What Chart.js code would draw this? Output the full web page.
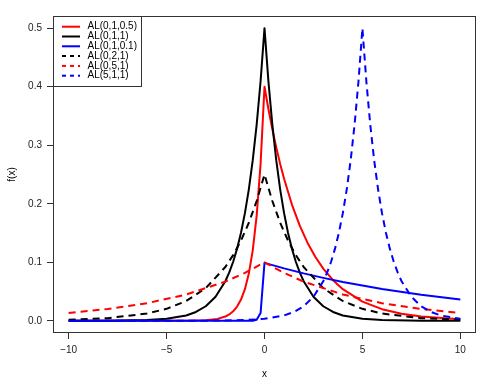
<!DOCTYPE html>
<html>
<head>
<meta charset="utf-8">
<script src="https://cdn.jsdelivr.net/npm/chart.js@4/dist/chart.umd.min.js"></script>
<style>
html,body{margin:0;padding:0;background:#fff;}
#wrap{width:499px;height:386px;}
</style>
</head>
<body>
<div id="wrap"><canvas id="c" width="499" height="386"></canvas></div>
<script>
// ---- data ----
const seriesLabels = ["AL(0,1,0.5)", "AL(0,1,1)", "AL(0,1,0.1)", "AL(0,2,1)", "AL(0,5,1)", "AL(5,1,1)"];

const x_AL_0_1_05 = [-10, -4, -3, -2.4, -2, -1.8, -1.6, -1.4, -1.2, -1, -0.8, -0.6, -0.4, -0.2, 0, 0.2, 0.4, 0.6, 0.8, 1, 1.4, 1.8, 2.2, 2.6, 3, 3.5, 4, 5, 6, 7, 8, 10];
const y_AL_0_1_05 = [0, 0.00013, 0.00099, 0.00329, 0.00733, 0.01093, 0.01630, 0.02432, 0.03629, 0.05413, 0.08076, 0.12048, 0.17973, 0.26813, 0.4, 0.36193, 0.32749, 0.29633, 0.26813, 0.24261, 0.19863, 0.16263, 0.13315, 0.10901, 0.08925, 0.06951, 0.05413, 0.03283, 0.01991, 0.01208, 0.00733, 0.00270];

const x_AL_0_1_1 = [-10, -8, -6, -5, -4, -3.5, -3, -2.5, -2, -1.8, -1.6, -1.4, -1.2, -1, -0.8, -0.6, -0.4, -0.2, 0, 0.2, 0.4, 0.6, 0.8, 1, 1.2, 1.4, 1.6, 1.8, 2, 2.5, 3, 3.5, 4, 5, 6, 8, 10];
const y_AL_0_1_1 = [0.00002, 0.00017, 0.00124, 0.00337, 0.00916, 0.01510, 0.02489, 0.04104, 0.06767, 0.08265, 0.10095, 0.12330, 0.15060, 0.18394, 0.22466, 0.27441, 0.33516, 0.40937, 0.5, 0.40937, 0.33516, 0.27441, 0.22466, 0.18394, 0.15060, 0.12330, 0.10095, 0.08265, 0.06767, 0.04104, 0.02489, 0.01510, 0.00916, 0.00337, 0.00124, 0.00017, 0.00002];

const x_AL_0_1_01 = [-10, -0.8, -0.6, -0.4, -0.2, 0, 1, 2, 3, 4, 6, 8, 10];
const y_AL_0_1_01 = [0, 0.00003, 0.00025, 0.00181, 0.01340, 0.09901, 0.08959, 0.08106, 0.07335, 0.06637, 0.05434, 0.04449, 0.03642];

const x_AL_0_2_1 = [-10, -8, -6, -5, -4, -3, -2, -1.6, -1.2, -0.8, -0.4, 0, 0.4, 0.8, 1.2, 1.6, 2, 3, 4, 5, 6, 8, 10];
const y_AL_0_2_1 = [0.00168, 0.00458, 0.01245, 0.02052, 0.03383, 0.05578, 0.09197, 0.11233, 0.13720, 0.16758, 0.20468, 0.25, 0.20468, 0.16758, 0.13720, 0.11233, 0.09197, 0.05578, 0.03383, 0.02052, 0.01245, 0.00458, 0.00168];

const x_AL_0_5_1 = [-10, -8, -6, -4, -2, -1, 0, 1, 2, 4, 6, 8, 10];
const y_AL_0_5_1 = [0.01353, 0.02019, 0.03012, 0.04493, 0.06703, 0.08187, 0.1, 0.08187, 0.06703, 0.04493, 0.03012, 0.02019, 0.01353];

const x_AL_5_1_1 = [-10, -5, -3, -1, 0, 1, 1.5, 2, 2.5, 3, 3.2, 3.4, 3.6, 3.8, 4, 4.2, 4.4, 4.6, 4.8, 5, 5.2, 5.4, 5.6, 5.8, 6, 6.2, 6.4, 6.6, 6.8, 7, 7.5, 8, 8.5, 9, 10];
const y_AL_5_1_1 = [0, 0.00002, 0.00017, 0.00124, 0.00337, 0.00916, 0.01510, 0.02489, 0.04104, 0.06767, 0.08265, 0.10095, 0.12330, 0.15060, 0.18394, 0.22466, 0.27441, 0.33516, 0.40937, 0.5, 0.40937, 0.33516, 0.27441, 0.22466, 0.18394, 0.15060, 0.12330, 0.10095, 0.08265, 0.06767, 0.04104, 0.02489, 0.01510, 0.00916, 0.00337];

const xTicks = [-10, -5, 0, 5, 10];
const yTicks = [0, 0.1, 0.2, 0.3, 0.4, 0.5];

// ---- styles ----
const FONT = "'Liberation Sans', Arial, Helvetica, sans-serif";
const styles = [
  {color: '#ff0000', dash: []},
  {color: '#000000', dash: []},
  {color: '#0000ff', dash: []},
  {color: '#000000', dash: [7, 5]},
  {color: '#ff0000', dash: [7, 5]},
  {color: '#0000ff', dash: [7, 5]}
];
const xsList = [x_AL_0_1_05, x_AL_0_1_1, x_AL_0_1_01, x_AL_0_2_1, x_AL_0_5_1, x_AL_5_1_1];
const ysList = [y_AL_0_1_05, y_AL_0_1_1, y_AL_0_1_01, y_AL_0_2_1, y_AL_0_5_1, y_AL_5_1_1];

const datasets = seriesLabels.map((lab, i) => ({
  label: lab,
  data: xsList[i].map((x, j) => ({x: x, y: ysList[i][j]})),
  borderColor: styles[i].color,
  backgroundColor: styles[i].color,
  borderWidth: 2,
  borderDash: styles[i].dash,
  borderCapStyle: 'butt',
  borderJoinStyle: 'round',
  pointRadius: 0,
  tension: 0,
  fill: false,
  order: seriesLabels.length - 1 - i
}));

const boxAndLegend = {
  id: 'boxAndLegend',
  afterDraw(chart) {
    const ctx = chart.ctx;
    const a = chart.chartArea;
    ctx.save();
    // plot box
    ctx.strokeStyle = '#333';
    ctx.lineWidth = 1;
    ctx.setLineDash([]);
    ctx.strokeRect(Math.round(a.left) + 0.5, Math.round(a.top) + 0.5, Math.round(a.right - a.left) - 1, Math.round(a.bottom - a.top) - 1);
    // legend
    const lx = Math.round(a.left) + 0.5, ly = Math.round(a.top) + 0.5;
    const lw = 88, lh = 70;
    ctx.fillStyle = '#fff';
    ctx.fillRect(lx, ly, lw, lh);
    ctx.strokeRect(lx, ly, lw, lh);
    const rowY0 = 26.7, rowStep = 9.8;
    ctx.font = '10px ' + FONT;
    ctx.textBaseline = 'middle';
    ctx.textAlign = 'left';
    seriesLabels.forEach((lab, i) => {
      const y = rowY0 + i * rowStep;
      ctx.beginPath();
      ctx.strokeStyle = styles[i].color;
      ctx.lineWidth = 2;
      ctx.setLineDash(styles[i].dash.length ? [4, 4] : []);
      ctx.moveTo(62, y);
      ctx.lineTo(80, y);
      ctx.stroke();
      ctx.fillStyle = '#000';
      ctx.fillText(lab, 87.5, y);
    });
    ctx.restore();
  }
};

new Chart(document.getElementById('c'), {
  type: 'line',
  data: {datasets: datasets},
  options: {
    responsive: false,
    animation: false,
    layout: {padding: {left: 0, right: 23, top: 16, bottom: 0}},
    plugins: {legend: {display: false}, tooltip: {enabled: false}},
    scales: {
      x: {
        type: 'linear',
        min: -10.8,
        max: 10.8,
        afterBuildTicks: (s) => { s.ticks = xTicks.map(v => ({value: v})); },
        afterFit: (s) => { s.height = 53; },
        grid: {display: true, drawOnChartArea: false, drawTicks: true, tickLength: 6, color: '#333', lineWidth: 1},
        border: {display: false},
        ticks: {font: {size: 10, family: FONT}, color: '#222', padding: 5, maxRotation: 0, autoSkip: false,
                callback: (v) => (v < 0 ? '\u2212' + String(-v) : String(v))},
        title: {display: true, text: 'x', font: {size: 10, family: FONT}, color: '#000', padding: {top: 0, bottom: 6}}
      },
      y: {
        type: 'linear',
        min: -0.0208,
        max: 0.5208,
        afterBuildTicks: (s) => { s.ticks = yTicks.map(v => ({value: v})); },
        afterFit: (s) => { s.width = 53; },
        grid: {display: true, drawOnChartArea: false, drawTicks: true, tickLength: 6, color: '#333', lineWidth: 1},
        border: {display: false},
        ticks: {font: {size: 10, family: FONT}, color: '#222', padding: 5, autoSkip: false,
                callback: (v) => Number(v).toFixed(1)},
        title: {display: true, text: 'f(x)', font: {size: 10, family: FONT}, color: '#000', padding: {top: 6, bottom: 0}}
      }
    }
  },
  plugins: [boxAndLegend]
});
</script>
</body>
</html>
